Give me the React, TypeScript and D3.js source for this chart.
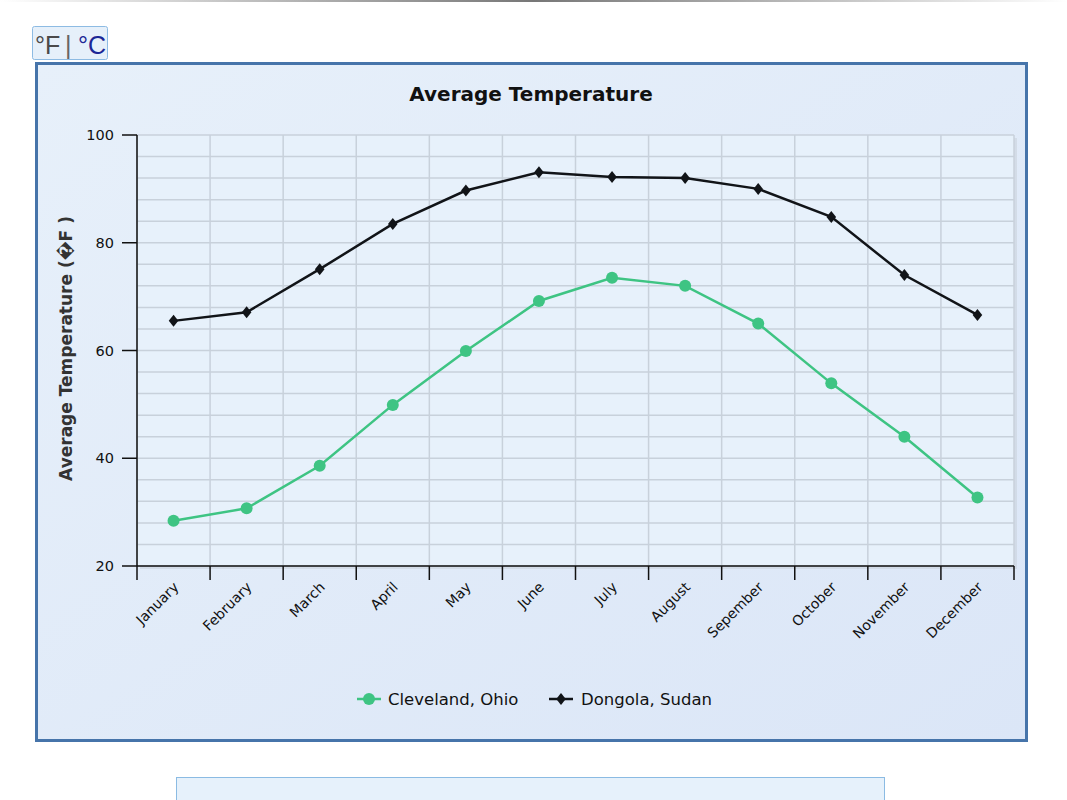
import React from "react";
import * as d3 from "d3";

const months = ["January","February","March","April","May","June","July","August","Sepember","October","November","December"];
const cleveland = [28.4, 30.7, 38.6, 49.9, 59.9, 69.2, 73.5, 72.0, 65.0, 53.9, 44.0, 32.7];
const dongola = [65.5, 67.1, 75.1, 83.5, 89.7, 93.1, 92.2, 92.0, 90.0, 84.8, 74.0, 66.6];
const yTicks = [20, 40, 60, 80, 100];
const seriesNames = ["Cleveland, Ohio", "Dongola, Sudan"];

const W = 1067, H = 800;
const FONT = "'DejaVu Sans', sans-serif";

export default function App() {
  const left = 137, right = 1014, top = 135, bottom = 566;
  const x = d3.scaleBand<string>().domain(months).range([left, right]);
  const y = d3.scaleLinear().domain([20, 100]).range([bottom, top]);
  const cx = (m: string) => (x(m) as number) + x.bandwidth() / 2;
  const line = d3.line<number>().x((_, i) => cx(months[i])).y(d => y(d));
  const minor = d3.range(20, 100.1, 4);
  const bounds = months.map(m => x(m) as number).concat([right]);
  const green = "#3ec483";
  const black = "#111418";
  const diamond = (px: number, py: number, s: number) =>
    `M${px},${py - s}L${px + s * 0.8},${py}L${px},${py + s}L${px - s * 0.8},${py}Z`;

  return (
    <svg width={W} height={H} style={{ position: "absolute", left: 0, top: 0, background: "#fff" }}>
      <defs>
        <linearGradient id="panelBg" x1="0" y1="0" x2="1" y2="1">
          <stop offset="0" stopColor="#e7f0fa" />
          <stop offset="1" stopColor="#dbe6f7" />
        </linearGradient>
        <linearGradient id="topLine" x1="0" y1="0" x2="1" y2="0">
          <stop offset="0" stopColor="#ffffff" />
          <stop offset="0.5" stopColor="#777" />
          <stop offset="1" stopColor="#ffffff" />
        </linearGradient>
      </defs>
      <rect x={0} y={0} width={W} height={2} fill="url(#topLine)" />
      {/* unit toggle */}
      <rect x={32.5} y={26.5} width={75} height={33} rx={2} fill="#e6f0fa" stroke="#8dbbe3" />
      <text x={35} y={54} fontFamily="'Liberation Sans', Arial, sans-serif" fontSize={25} fill="#4a4a4a">°F</text>
      <text x={65} y={54} fontFamily="'Liberation Sans', Arial, sans-serif" fontSize={25} fill="#666">|</text>
      <text x={78} y={54} fontFamily="'Liberation Sans', Arial, sans-serif" fontSize={25} fill="#1c2796">°C</text>
      {/* main panel */}
      <rect x={36.5} y={63.5} width={990} height={677} fill="url(#panelBg)" stroke="#4674aa" strokeWidth={3} />
      {/* second panel stub */}
      <rect x={176.5} y={777.5} width={708} height={30} fill="#e6f1fb" stroke="#8bbbe3" />
      <text x={531} y={101} textAnchor="middle" fontFamily={FONT} fontWeight="bold" fontSize={20} fill="#111">Average Temperature</text>
      {/* plot background */}
      <rect x={left + 3} y={top + 3} width={right - left} height={bottom - top} fill="#c9d2dc" opacity={0.6} />
      <rect x={left} y={top} width={right - left} height={bottom - top} fill="#e7f1fb" />
      {minor.map(v => (
        <line key={"h" + v} x1={left} x2={right} y1={y(v)} y2={y(v)} stroke="#c8d1db" strokeWidth={1.5} />
      ))}
      {bounds.map((b, i) => (
        <line key={"v" + i} x1={b} x2={b} y1={top} y2={bottom} stroke="#c8d1db" strokeWidth={1.5} />
      ))}
      {/* axes */}
      <line x1={left} x2={left} y1={top} y2={bottom} stroke="#111" strokeWidth={1.5} />
      <line x1={left} x2={right} y1={bottom} y2={bottom} stroke="#111" strokeWidth={1.5} />
      {yTicks.map(t => (
        <g key={"yt" + t}>
          <line x1={left - 15} x2={left} y1={y(t)} y2={y(t)} stroke="#111" strokeWidth={1.5} />
          <text x={left - 23} y={y(t) + 5} textAnchor="end" fontFamily={FONT} fontSize={14.5} fill="#111">{t}</text>
        </g>
      ))}
      {bounds.map((b, i) => (
        <line key={"xt" + i} x1={b} x2={b} y1={bottom} y2={bottom + 14} stroke="#111" strokeWidth={1.5} />
      ))}
      {months.map(m => (
        <text key={"xl" + m} transform={`translate(${cx(m) + 6},${bottom + 22}) rotate(-45)`} textAnchor="end"
          fontFamily={FONT} fontSize={14} fill="#111">{m}</text>
      ))}
      <text transform={`translate(72,${(top + bottom) / 2 - 2}) rotate(-90)`} textAnchor="middle"
        fontFamily={FONT} fontWeight="bold" fontSize={17} fill="#333">{"Average Temperature (\uFFFDF )"}</text>
      {/* series */}
      <path d={line(cleveland) || ""} fill="none" stroke={green} strokeWidth={2.5} />
      {cleveland.map((v, i) => (
        <circle key={"c" + i} cx={cx(months[i])} cy={y(v)} r={6} fill={green} />
      ))}
      <path d={line(dongola) || ""} fill="none" stroke={black} strokeWidth={2.5} />
      {dongola.map((v, i) => (
        <path key={"d" + i} d={diamond(cx(months[i]), y(v), 6)} fill={black} />
      ))}
      {/* legend */}
      <line x1={357} x2={381} y1={699} y2={699} stroke={green} strokeWidth={2.5} />
      <circle cx={369} cy={699} r={6} fill={green} />
      <text x={388} y={705} fontFamily={FONT} fontSize={16.5} fill="#111">{seriesNames[0]}</text>
      <line x1={549} x2={573} y1={699} y2={699} stroke={black} strokeWidth={2.5} />
      <path d={diamond(561, 699, 6)} fill={black} />
      <text x={581} y={705} fontFamily={FONT} fontSize={16.5} fill="#111">{seriesNames[1]}</text>
    </svg>
  );
}
